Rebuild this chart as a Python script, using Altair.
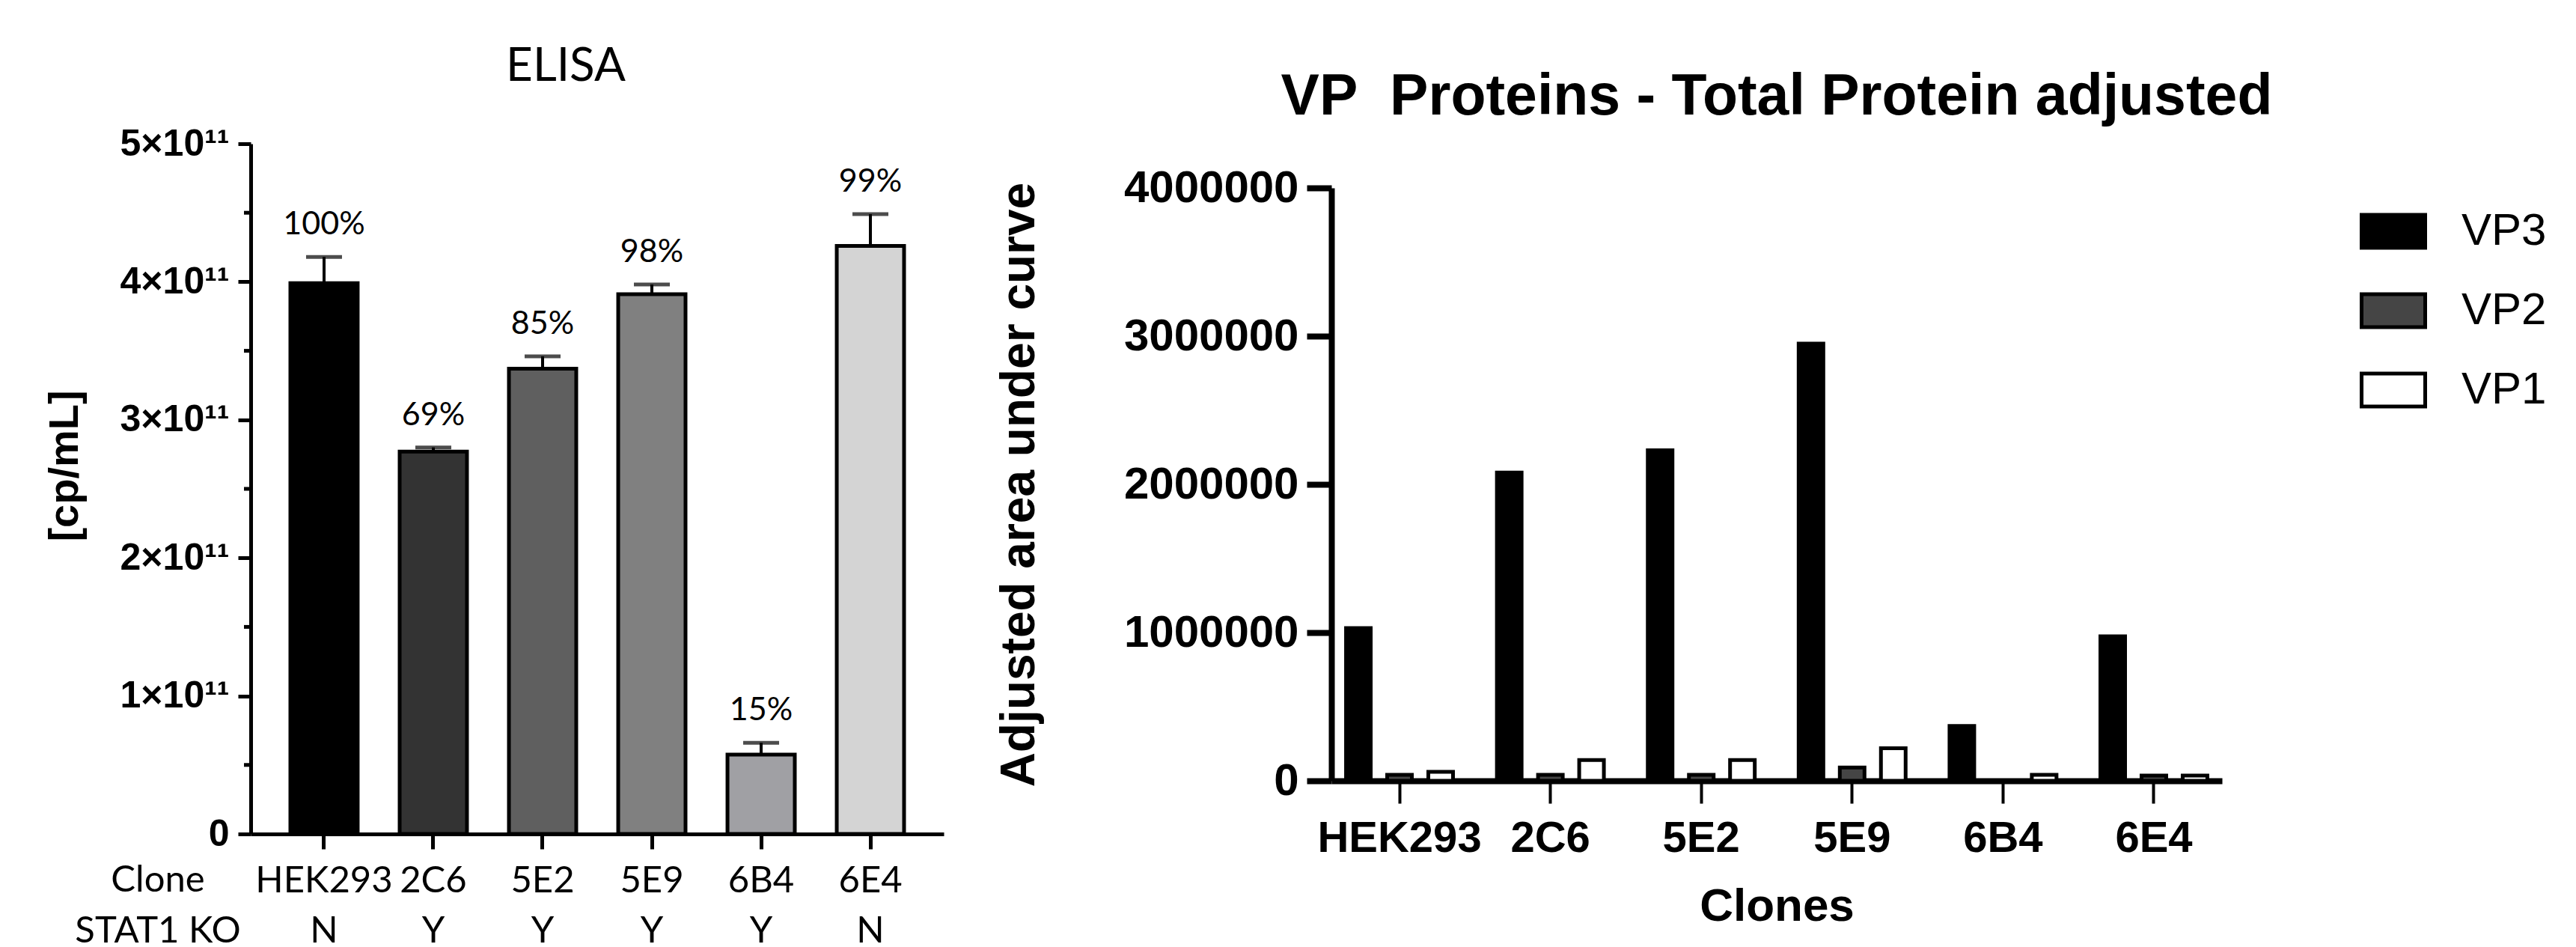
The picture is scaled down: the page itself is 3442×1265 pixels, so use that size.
import altair as alt
import pandas as pd

# ---------------- ELISA panel data ----------------
clones = ["HEK293", "2C6", "5E2", "5E9", "6B4", "6E4"]
stat1_ko = ["N", "Y", "Y", "Y", "Y", "N"]
elisa_mean = [3.99e11, 2.77e11, 3.37e11, 3.91e11, 0.575e11, 4.26e11]
elisa_err_top = [4.18e11, 2.80e11, 3.46e11, 3.98e11, 0.66e11, 4.49e11]
elisa_pct = ["100%", "69%", "85%", "98%", "15%", "99%"]
elisa_colors = ["#000000", "#333333", "#5f5f5f", "#808080", "#a0a0a4", "#d4d4d4"]
elisa_ticks = [0, 1e11, 2e11, 3e11, 4e11, 5e11]
elisa_minor = [0.5e11, 1.5e11, 2.5e11, 3.5e11, 4.5e11]
row_headers = ["Clone", "STAT1 KO"]

# ---------------- VP panel data ----------------
proteins = ["VP3", "VP2", "VP1"]
vp3 = [1.03e6, 2.08e6, 2.23e6, 2.95e6, 0.37e6, 0.975e6]
vp2 = [0.04e6, 0.04e6, 0.04e6, 0.09e6, 0.0, 0.035e6]
vp1 = [0.06e6, 0.14e6, 0.14e6, 0.22e6, 0.04e6, 0.035e6]
protein_colors = ["#000000", "#454545", "#ffffff"]
vp_ticks = [0, 1000000, 2000000, 3000000, 4000000]

LATO = "Lato"
ARIAL = "Liberation Sans"

# ---------------- left chart ----------------
W1, H1 = 926, 922
df_e = pd.DataFrame({"clone": clones, "ko": stat1_ko, "mean": elisa_mean,
                     "err": elisa_err_top, "pct": elisa_pct})
base_e = alt.Chart(df_e)
x_e = alt.X("clone:N", sort=clones, title=None,
            scale=alt.Scale(paddingInner=0.384, paddingOuter=0.363),
            axis=alt.Axis(labelFont=LATO, labelFontSize=49, labelColor="black", labelAngle=0,
                          labelBaseline="middle", labelPadding=42, labelLimit=0, tickSize=20,
                          tickWidth=5, tickColor="black", domainColor="black", domainWidth=5,
                          grid=False))
x_plain = alt.X("clone:N", sort=clones)

bars_e = base_e.mark_bar(stroke="black", strokeWidth=5).encode(
    x=x_e,
    y=alt.Y("mean:Q", scale=alt.Scale(domain=[0, 5e11], nice=False),
            axis=alt.Axis(values=elisa_ticks,
                          labelExpr="datum.value == 0 ? '0' : format(datum.value / 1e11, 'd') + '×10¹¹'",
                          labelFont=ARIAL, labelFontWeight="bold", labelFontSize=50, labelColor="black",
                          labelPadding=12, labelLimit=0, tickSize=17, tickWidth=5, tickColor="black",
                          domainColor="black", domainWidth=5, grid=False,
                          title="[cp/mL]", titleFont=ARIAL, titleFontWeight="bold", titleFontSize=56,
                          titleColor="black", titleX=-249, titleY=430, titleBaseline="middle",
                          titleAngle=270)),
    fill=alt.Fill("clone:N", sort=clones, scale=alt.Scale(domain=clones, range=elisa_colors), legend=None),
)
err_rule = base_e.mark_rule(color="black", strokeWidth=4).encode(x=x_plain, y="mean:Q", y2="err:Q")
err_cap = base_e.mark_tick(color="black", size=48, thickness=5).encode(x=x_plain, y="err:Q")
pct_txt = base_e.mark_text(font=LATO, fontSize=43, baseline="middle", dy=-43, color="black").encode(
    x=x_plain, y="err:Q", text="pct:N")
ko_txt = base_e.mark_text(font=LATO, fontSize=49, baseline="middle", color="black").encode(
    x=x_plain, y=alt.value(H1 + 130), text="ko:N")
minor = alt.Chart(pd.DataFrame({"v": elisa_minor})).mark_rule(color="black", strokeWidth=5).encode(
    y="v:Q", x=alt.value(-9), x2=alt.value(0))
hdr1 = alt.Chart(pd.DataFrame({"h": [row_headers[0]]})).mark_text(
    font=LATO, fontSize=49, baseline="middle", align="center", color="black").encode(
    text="h:N", x=alt.value(-124), y=alt.value(H1 + 62))
hdr2 = alt.Chart(pd.DataFrame({"h": [row_headers[1]]})).mark_text(
    font=LATO, fontSize=49, baseline="middle", align="center", color="black").encode(
    text="h:N", x=alt.value(-124), y=alt.value(H1 + 130))

left = alt.layer(bars_e, err_rule, err_cap, pct_txt, ko_txt, minor, hdr1, hdr2).properties(
    width=W1, height=H1,
    title=alt.TitleParams("ELISA", font=LATO, fontSize=62, fontWeight="normal", color="black",
                          baseline="middle", offset=16, dx=-42, anchor="middle", frame="group"))

# ---------------- right chart ----------------
W2, H2 = 1190, 851
rows = []
for p, vals in zip(proteins, [vp3, vp2, vp1]):
    for c, v in zip(clones, vals):
        rows.append({"clone": c, "protein": p, "value": v})
df_vp = pd.DataFrame(rows)

bars_vp = alt.Chart(df_vp).mark_bar(stroke="black", strokeWidth=5).encode(
    x=alt.X("clone:N", sort=clones,
            scale=alt.Scale(paddingInner=0.291, paddingOuter=0.097),
            axis=alt.Axis(title="Clones", labelFont=ARIAL, labelFontWeight="bold", labelFontSize=58,
                          labelColor="black", labelAngle=0, labelBaseline="middle", labelPadding=47,
                          labelLimit=0, tickSize=30, tickWidth=4, tickColor="black",
                          domainColor="black", domainWidth=8, grid=False, titleFont=ARIAL,
                          titleFontWeight="bold", titleFontSize=62, titleColor="black", titleY=167,
                          titleBaseline="middle")),
    xOffset=alt.XOffset("protein:N", sort=proteins, scale=alt.Scale(paddingInner=0.4, paddingOuter=0)),
    y=alt.Y("value:Q", scale=alt.Scale(domain=[0, 4e6], range=[H2, 59], nice=False),
            axis=alt.Axis(values=vp_ticks, format="d", labelFont=ARIAL, labelFontWeight="bold",
                          labelFontSize=60, labelColor="black", labelPadding=11, labelLimit=0,
                          tickSize=33, tickWidth=8, tickColor="black", domainColor="black",
                          domainWidth=8, grid=False, title="Adjusted area under curve",
                          titleFont=ARIAL, titleFontWeight="bold", titleFontSize=64,
                          titleColor="black", titleX=-417, titleY=455, titleBaseline="middle",
                          titleAngle=270)),
    fill=alt.Fill("protein:N", sort=proteins,
                  scale=alt.Scale(domain=proteins, range=protein_colors),
                  legend=alt.Legend(title=None, orient="none", legendX=1374, legendY=72,
                                    symbolType="M-1,-0.52H1V0.52H-1Z", symbolSize=7225,
                                    symbolStrokeColor="black", symbolStrokeWidth=5,
                                    labelFont=ARIAL, labelFontSize=60, labelColor="black",
                                    labelOffset=46, labelLimit=0, rowPadding=28, padding=0)),
).properties(
    width=W2, height=H2,
    title=alt.TitleParams("VP\u00a0 Proteins - Total Protein adjusted", font=ARIAL, fontSize=77,
                          fontWeight="bold", color="black", baseline="middle", offset=64, dy=79,
                          anchor="middle", frame="group"))

chart = alt.hconcat(left, bars_vp, spacing=518, bounds="flush").resolve_scale(
    fill="independent").resolve_legend(fill="independent").properties(
    padding={"left": 57, "top": 57, "right": 10, "bottom": 5}, background="white"
).configure_view(stroke="transparent")

chart.save("out.html", embed_options={"renderer": "svg", "actions": False})
